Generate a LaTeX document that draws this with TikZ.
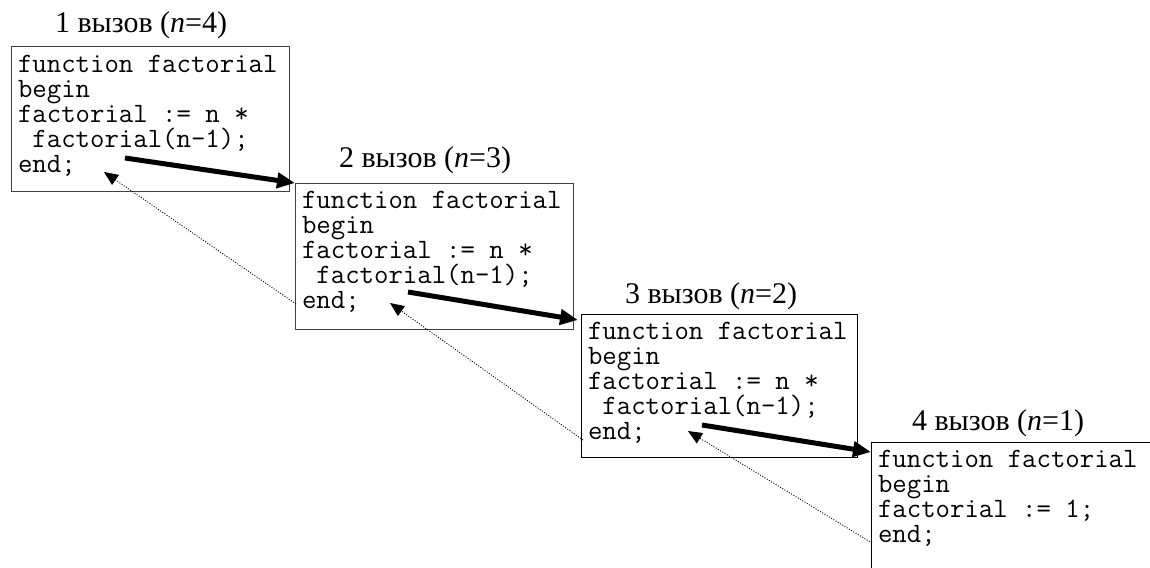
\documentclass[tikz,border=0pt]{standalone}
\usepackage{fontspec}
\setmainfont{Liberation Serif}
\usetikzlibrary{arrows.meta,calc}
\tikzset{
  framebox/.style={draw=#1, line width=1pt, rectangle, inner sep=0pt, outer sep=0pt, anchor=north west},
  codetext/.style={anchor=north west, inner sep=0pt, outer sep=0pt, align=left,
    font=\fontsize{28}{25}\selectfont\ttfamily},
  calllabel/.style={anchor=base west, inner sep=0pt, outer sep=0pt,
    font=\fontsize{30}{34}\selectfont},
  callarrow/.style={line width=5pt, -{Triangle[length=18pt,width=15pt]}},
  returnarrow/.style={line width=0.9pt, dash pattern=on 1pt off 1.6pt, -{Triangle[length=14pt,width=12pt]}}
}
\begin{document}
\begin{tikzpicture}[x=1pt,y=-1pt]
\useasboundingbox (0,0) rectangle (1150,567);
\clip (0,0) rectangle (1150,567);
% boxes
\node[framebox=black!75, minimum width=278pt, minimum height=144pt] (b1) at (11,47) {};
\node[framebox=black!75, minimum width=278pt, minimum height=146pt] (b2) at (295,183) {};
\node[framebox=black, minimum width=276pt, minimum height=143pt] (b3) at (581,314) {};
\node[framebox=black, minimum width=400pt, minimum height=200pt] (b4) at (871,442) {};
% code
\node[codetext] (c1) at ($(b1.north west)+(7,7.5)$) {\strut function factorial\\begin\\factorial := n *\\\phantom{x}factorial(n-1);\\end;};
\node[codetext] (c2) at ($(b2.north west)+(7,7.5)$) {\strut function factorial\\begin\\factorial := n *\\\phantom{x}factorial(n-1);\\end;};
\node[codetext] (c3) at ($(b3.north west)+(7,7.5)$) {\strut function factorial\\begin\\factorial := n *\\\phantom{x}factorial(n-1);\\end;};
\node[codetext] (c4) at ($(b4.north west)+(7,7.5)$) {\strut function factorial\\begin\\factorial := 1;\\end;};
% labels
\node[calllabel] (l1) at ($(b1.north west)+(44,-14)$) {1 вызов (\textit{n}=4)};
\node[calllabel] (l2) at ($(b2.north west)+(44,-16)$) {2 вызов (\textit{n}=3)};
\node[calllabel] (l3) at ($(b3.north west)+(44,-11)$) {3 вызов (\textit{n}=2)};
\node[calllabel] (l4) at ($(b4.north west)+(41,-12)$) {4 вызов (\textit{n}=1)};
% connector points
\coordinate (s1) at ($(b1.north west)+(114,111)$);
\coordinate (s2) at ($(b2.north west)+(113,109)$);
\coordinate (s3) at ($(b3.north west)+(121,111)$);
\coordinate (e2) at ($(b3.north west)+(-3,6)$);
\coordinate (e3) at ($(b4.north west)+(0,10)$);
\coordinate (r2) at ($(b2.north west)+(1,121)$);
\coordinate (r3) at ($(b3.north west)+(2,126)$);
\coordinate (r4) at ($(b4.north west)+(1,101)$);
\coordinate (t1) at ($(b1.north west)+(93,125)$);
\coordinate (t2) at ($(b2.north west)+(95,120)$);
\coordinate (t3) at ($(b3.north west)+(107,117)$);
% calls
\draw[callarrow] (s1) -- (b2.north west);
\draw[callarrow] (s2) -- (e2);
\draw[callarrow] (s3) -- (e3);
% returns
\draw[returnarrow] (r2) -- (t1);
\draw[returnarrow] (r3) -- (t2);
\draw[returnarrow] (r4) -- (t3);
\end{tikzpicture}
\end{document}
